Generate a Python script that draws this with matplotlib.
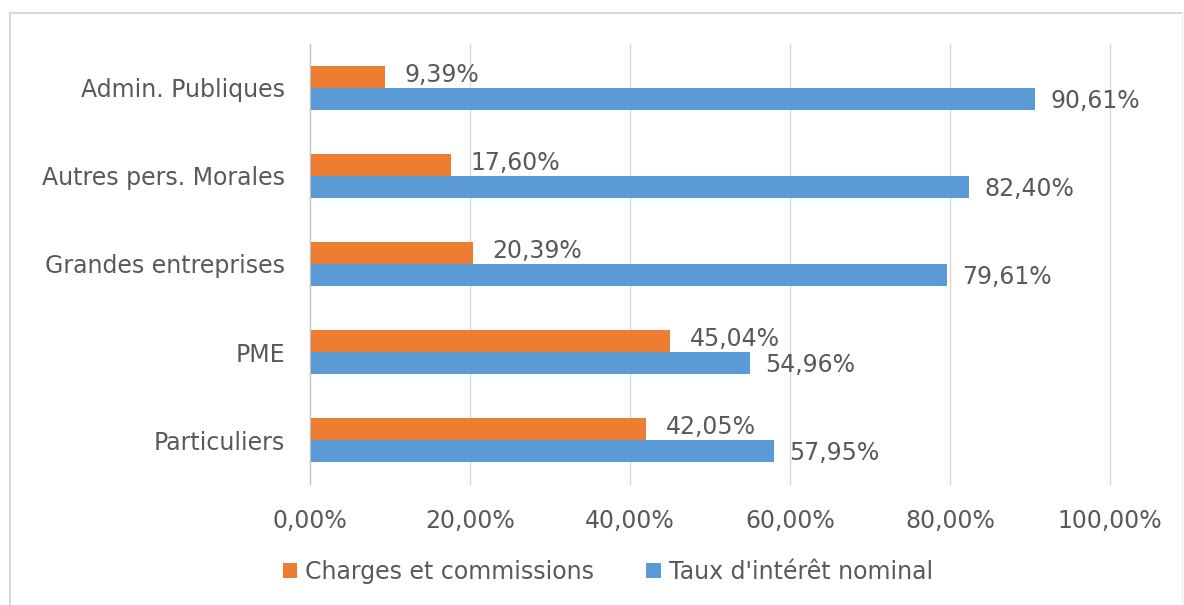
import matplotlib
matplotlib.use("Agg")
import matplotlib.pyplot as plt
from matplotlib.lines import Line2D
import numpy as np

categories = ["Particuliers", "PME", "Grandes entreprises", "Autres pers. Morales", "Admin. Publiques"]
charges = [42.05, 45.04, 20.39, 17.60, 9.39]
taux = [57.95, 54.96, 79.61, 82.40, 90.61]
xticks = [0, 20, 40, 60, 80, 100]
series_names = ["Charges et commissions", "Taux d'intérêt nominal"]

plt.rcParams['font.family'] = ['DejaVu Sans']
txt = '#595959'
orange = '#ED7D31'
blue = '#5B9BD5'
FS = 17

W, H = 1184, 605
fig = plt.figure(figsize=(W/100, H/100), dpi=100)
ax = fig.add_axes([310/W, 1-484/H, 800/W, 440/H])

y = np.arange(len(categories))
bh = 0.25
b1 = ax.barh(y + bh/2, charges, height=bh, color=orange, label=series_names[0])
b2 = ax.barh(y - bh/2, taux, height=bh, color=blue, label=series_names[1])

def fmt(v):
    return f"{v:.2f}".replace('.', ',') + '%'

for rect, v in zip(b1, charges):
    ax.annotate(fmt(v), (rect.get_width(), rect.get_y() + rect.get_height()/2 + 0.02),
                xytext=(14, 0), textcoords='offset points', va='center', ha='left',
                fontsize=FS, color=txt)
for rect, v in zip(b2, taux):
    ax.annotate(fmt(v), (rect.get_width(), rect.get_y() + rect.get_height()/2 - 0.02),
                xytext=(11, 0), textcoords='offset points', va='center', ha='left',
                fontsize=FS, color=txt)

ax.set_xlim(0, 100)
ax.set_ylim(-0.5, len(categories) - 0.5)
ax.set_xticks(xticks)
ax.set_xticklabels([f"{t},00%" for t in xticks], fontsize=FS, color=txt)
ax.set_yticks(y)
ax.set_yticklabels(categories, fontsize=FS, color=txt)
ax.tick_params(axis='both', length=0)
ax.tick_params(axis='x', pad=18)
ax.tick_params(axis='y', pad=18)
ax.grid(axis='x', color='#D9D9D9', linewidth=1)
for gl in ax.get_xgridlines():
    gl.set_clip_on(False)
ax.set_axisbelow(True)
for s in ['top', 'right', 'bottom']:
    ax.spines[s].set_visible(False)
ax.spines['left'].set_color('#BFBFBF')

leg = fig.legend(handles=[b1, b2], labels=series_names, loc='center',
                 bbox_to_anchor=(608/W, 1-572/H), ncol=2, frameon=False,
                 fontsize=FS, handlelength=0.6, handleheight=0.6, handletextpad=0.35,
                 columnspacing=2.2)
for t in leg.get_texts():
    t.set_color(txt)

# outer chart border (top, left, right)
border = '#D9D9D9'
fig.add_artist(Line2D([10/W, 1182/W], [1-13/H, 1-13/H], transform=fig.transFigure, color=border, lw=1.5))
fig.add_artist(Line2D([10/W, 10/W], [0, 1-13/H], transform=fig.transFigure, color=border, lw=1.5))
fig.add_artist(Line2D([1182/W, 1182/W], [0, 1-13/H], transform=fig.transFigure, color='#EEEEEE', lw=1.0))
fig.savefig('out.png', dpi=100, facecolor='white')
